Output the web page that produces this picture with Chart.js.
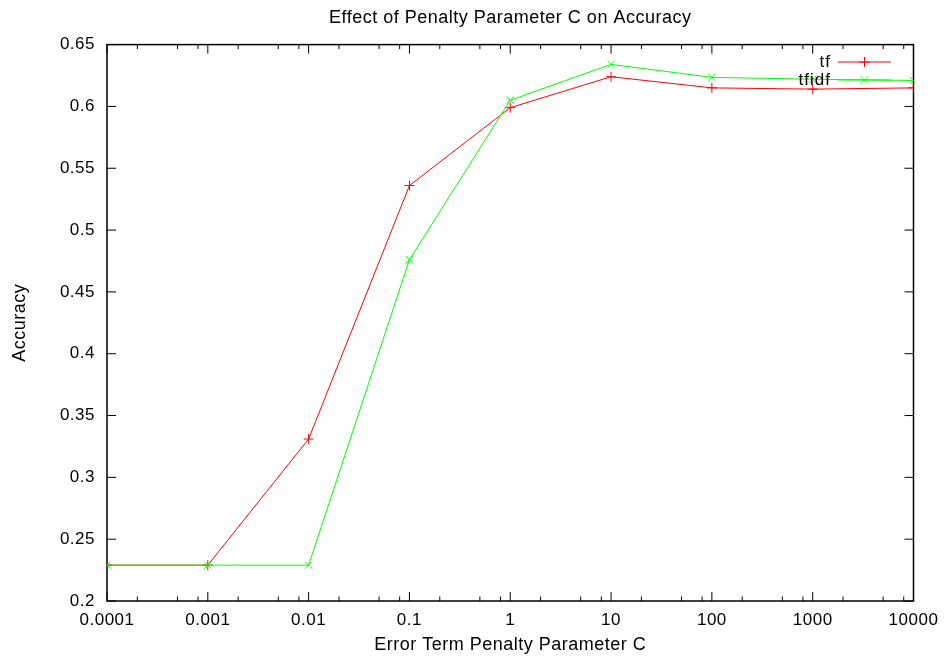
<!DOCTYPE html>
<html>
<head>
<meta charset="utf-8">
<script src="https://cdn.jsdelivr.net/npm/chart.js@4"></script>
<style>
  html, body { margin: 0; padding: 0; background: #fff; }
  #wrap { width: 945px; height: 660px; position: relative; }
</style>
</head>
<body>
<div id="wrap"><canvas id="chart"></canvas></div>
<script>
// values
const cValues = [0.0001, 0.001, 0.01, 0.1, 1, 10, 100, 1000, 10000];
const xTickLabels = ['0.0001', '0.001', '0.01', '0.1', '1', '10', '100', '1000', '10000'];
const tfAcc = [0.229, 0.229, 0.331, 0.536, 0.599, 0.624, 0.615, 0.614, 0.615];
const tfidfAcc = [0.229, 0.229, 0.229, 0.476, 0.605, 0.634, 0.6235, 0.622, 0.621];
const yTickValues = [0.2, 0.25, 0.3, 0.35, 0.4, 0.45, 0.5, 0.55, 0.6, 0.65];
const minorSteps = [2, 5, 8];

const FONT = 'Liberation Sans, Arial, Helvetica, sans-serif';

const toPoints = (ys) => cValues.map((c, i) => ({ x: c, y: ys[i] }));

// gnuplot's text comes out a bit wider than plain Arial
const spacing = {
  id: 'spacing',
  beforeLayout(chart) { chart.ctx.letterSpacing = '0.5px'; },
  beforeDraw(chart) { chart.ctx.letterSpacing = '0.5px'; },
  // centre the title over the plot area rather than the whole canvas
  afterLayout(chart) {
    const t = chart.titleBlock;
    if (t) { t.left = chart.chartArea.left; t.right = chart.chartArea.right; }
  }
};

// border box with inward ticks on all four sides
const frame = {
  id: 'frame',
  beforeDatasetsDraw(chart) {
    const { ctx, chartArea: a, scales: { x, y } } = chart;
    ctx.save();
    ctx.strokeStyle = '#000';
    ctx.lineWidth = 1;
    ctx.beginPath();
    cValues.forEach((c, i) => {
      const px = x.getPixelForValue(c);
      ctx.moveTo(px, a.bottom); ctx.lineTo(px, a.bottom - 9);
      ctx.moveTo(px, a.top); ctx.lineTo(px, a.top + 9);
      if (i < cValues.length - 1) {
        minorSteps.forEach(m => {
          const mx = x.getPixelForValue(c * m);
          ctx.moveTo(mx, a.bottom); ctx.lineTo(mx, a.bottom - 4.5);
          ctx.moveTo(mx, a.top); ctx.lineTo(mx, a.top + 4.5);
        });
      }
    });
    yTickValues.forEach(v => {
      const py = y.getPixelForValue(v);
      ctx.moveTo(a.left, py); ctx.lineTo(a.left + 9, py);
      ctx.moveTo(a.right, py); ctx.lineTo(a.right - 9, py);
    });
    ctx.stroke();
    ctx.lineWidth = 1.5;
    ctx.strokeRect(a.left, a.top, a.right - a.left, a.bottom - a.top);
    ctx.restore();
  }
};

// key in the top right corner, inside the plot
const key = {
  id: 'key',
  afterDatasetsDraw(chart) {
    const { ctx } = chart;
    ctx.save();
    ctx.font = '17px ' + FONT;
    ctx.letterSpacing = '1px';
    ctx.textAlign = 'right';
    ctx.textBaseline = 'middle';
    chart.data.datasets.slice().sort((a, b) => a.keyRow - b.keyRow).forEach(ds => {
      const yy = 62 + ds.keyRow * 18;
      ctx.fillStyle = '#000';
      ctx.fillText(ds.label, 831, yy);
      ctx.strokeStyle = ds.borderColor;
      ctx.lineWidth = 1;
      ctx.beginPath();
      ctx.moveTo(838, yy); ctx.lineTo(891, yy);
      const cx = 864.5, r = 5;
      if (ds.pointStyle === 'cross') {
        ctx.moveTo(cx - r, yy); ctx.lineTo(cx + r, yy);
        ctx.moveTo(cx, yy - r); ctx.lineTo(cx, yy + r);
      } else {
        const d = r * 0.75;
        ctx.moveTo(cx - d, yy - d); ctx.lineTo(cx + d, yy + d);
        ctx.moveTo(cx - d, yy + d); ctx.lineTo(cx + d, yy - d);
      }
      ctx.stroke();
    });
    ctx.restore();
  }
};

new Chart(document.getElementById('chart'), {
  type: 'line',
  data: {
    datasets: [
      {
        label: 'tf',
        data: toPoints(tfAcc),
        borderColor: '#ff0000',
        backgroundColor: '#ff0000',
        pointStyle: 'cross',
        pointRadius: 5,
        pointBorderWidth: 1,
        borderWidth: 1,
        tension: 0,
        order: 1,
        keyRow: 0
      },
      {
        label: 'tfidf',
        data: toPoints(tfidfAcc),
        borderColor: '#00ff00',
        backgroundColor: '#00ff00',
        pointStyle: 'crossRot',
        pointRadius: 5,
        pointBorderWidth: 1,
        borderWidth: 1,
        tension: 0,
        order: 0,
        keyRow: 1
      }
    ]
  },
  options: {
    responsive: true,
    maintainAspectRatio: false,
    animation: false,
    layout: { padding: { left: 0, right: 31.5, top: 0, bottom: 0 } },
    plugins: {
      legend: { display: false },
      tooltip: { enabled: false },
      title: {
        display: true,
        text: 'Effect of Penalty Parameter C on Accuracy',
        color: '#000',
        font: { family: FONT, size: 18, weight: 'normal', lineHeight: 1.2 },
        padding: { top: 7, bottom: 16 }
      }
    },
    scales: {
      x: {
        type: 'logarithmic',
        min: 0.0001,
        max: 10000,
        grid: { display: false, drawTicks: false },
        border: { display: false },
        afterBuildTicks: (s) => { s.ticks = cValues.map(v => ({ value: v })); },
        afterFit: (s) => { s.height = 59; s.paddingLeft = 0; s.paddingRight = 0; },
        ticks: {
          autoSkip: false,
          maxRotation: 0,
          padding: 9,
          color: '#000',
          font: { family: FONT, size: 17 },
          callback: (v, i) => xTickLabels[i]
        },
        title: {
          display: true,
          text: 'Error Term Penalty Parameter C',
          color: '#000',
          font: { family: FONT, size: 18 },
          padding: { top: 0, bottom: 4 }
        }
      },
      y: {
        min: 0.2,
        max: 0.65,
        grid: { display: false, drawTicks: false },
        border: { display: false },
        afterBuildTicks: (s) => { s.ticks = yTickValues.map(v => ({ value: v })); },
        afterFit: (s) => { s.width = 107; s.paddingTop = 0; s.paddingBottom = 0; },
        ticks: {
          padding: 12,
          color: '#000',
          font: { family: FONT, size: 17 },
          callback: (v) => String(Number(v.toFixed(2)))
        },
        title: {
          display: true,
          text: 'Accuracy',
          color: '#000',
          font: { family: FONT, size: 18 },
          padding: { top: 9, bottom: 0 }
        }
      }
    }
  },
  plugins: [spacing, frame, key]
});
</script>
</body>
</html>
